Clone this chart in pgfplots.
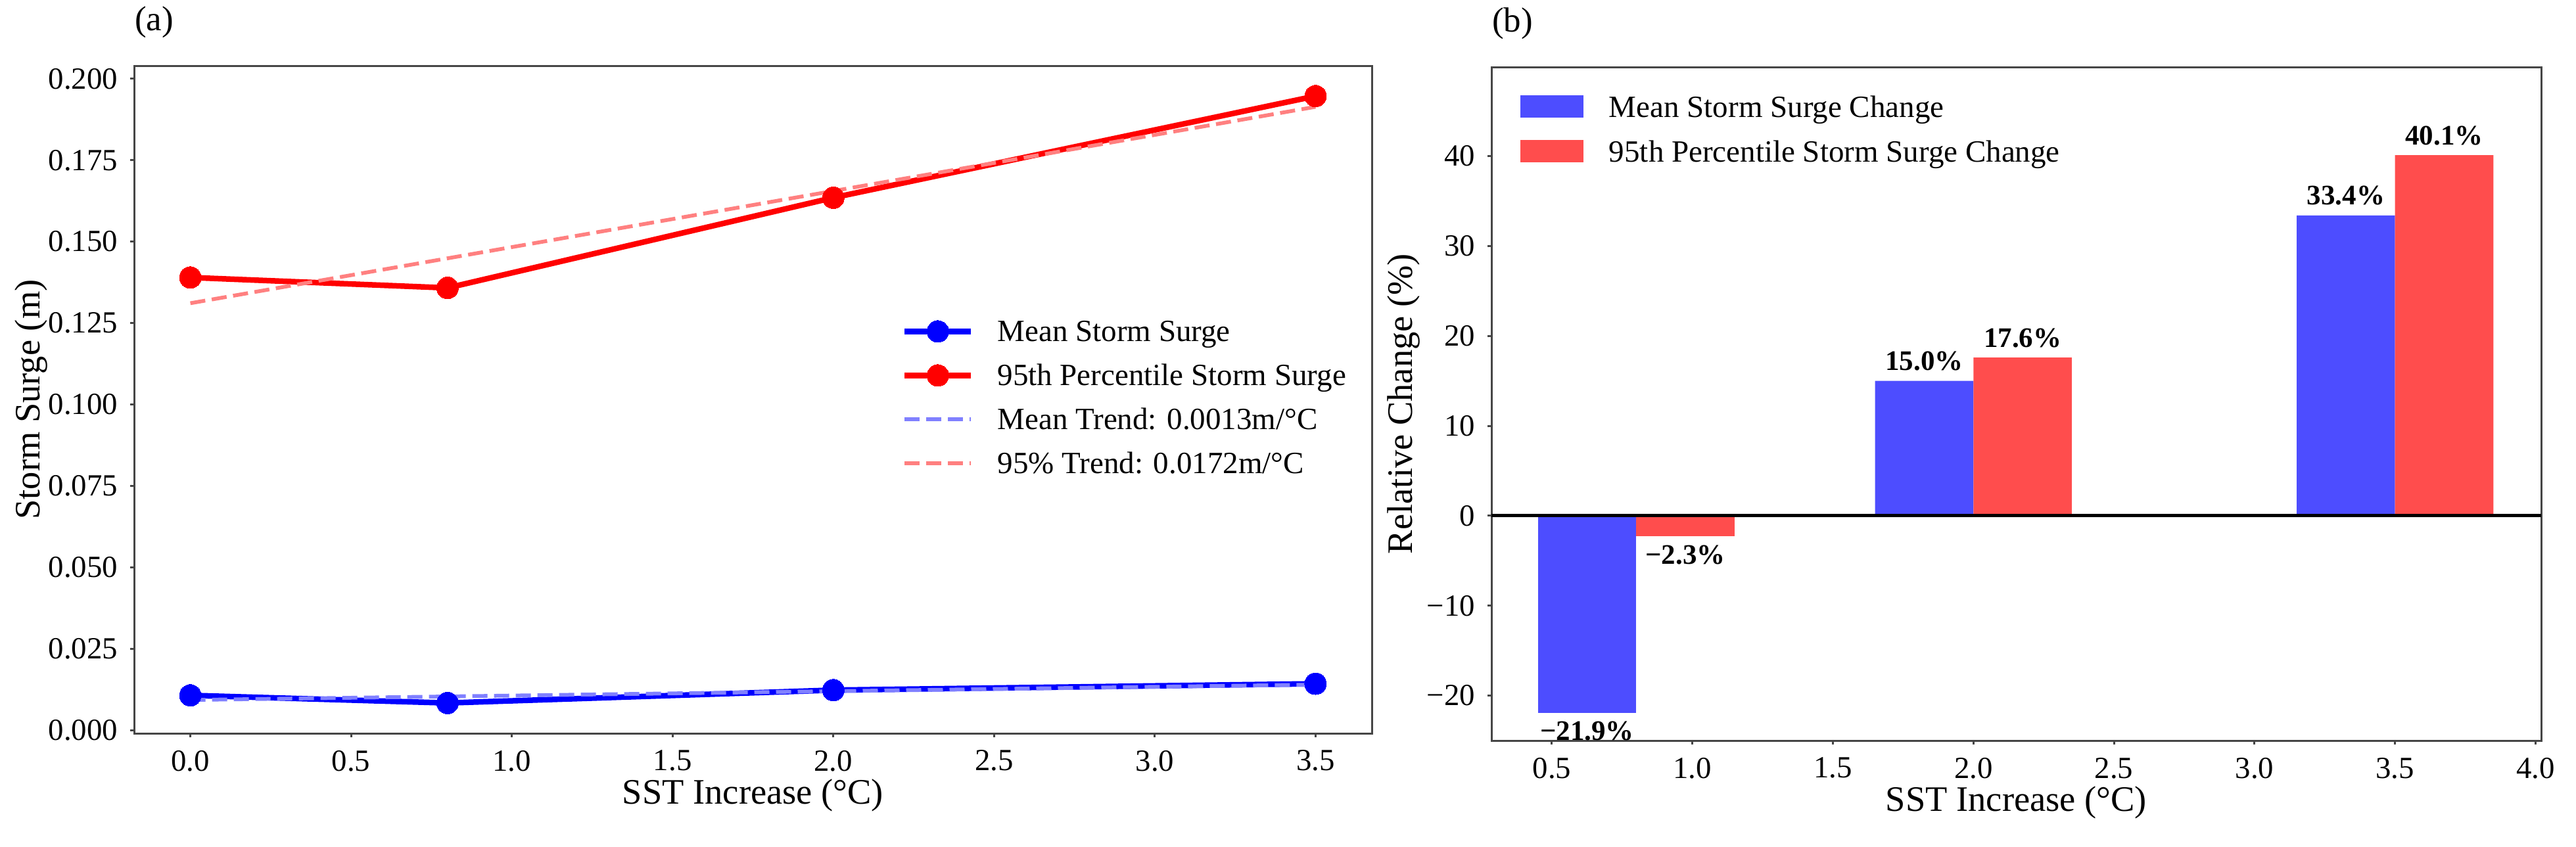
\documentclass[border=0pt]{standalone}
\usepackage{fontspec}
\setmainfont{Liberation Serif}
\usepackage{pgfplots}
\pgfplotsset{compat=1.18}
\definecolor{tblue}{RGB}{128,128,255}
\definecolor{tred}{RGB}{255,128,128}
\definecolor{bblue}{RGB}{77,77,255}
\definecolor{bred}{RGB}{255,77,77}
\definecolor{spine}{RGB}{70,70,70}
\newcommand{\tickfont}{\fontsize{9.36pt}{11pt}\selectfont}
\newcommand{\labfont}{\fontsize{10.9pt}{13pt}\selectfont}
\newcommand{\titfont}{\fontsize{10.6pt}{13pt}\selectfont}
\newcommand{\legfont}{\fontsize{9.4pt}{11pt}\selectfont}
\newcommand{\barfont}{\fontsize{8.6pt}{10pt}\selectfont\bfseries}
\pgfplotsset{
  common/.style={
    scale only axis, anchor=south west,
    axis line style={spine, line width=0.6pt},
    every tick/.style={spine, line width=0.6pt},
    tick align=outside, major tick length=1.2pt, tick pos=left,
    ticklabel style={font=\tickfont},
    xticklabel style={inner sep=0pt, anchor=north, yshift=-3.8pt},
    yticklabel style={inner sep=0pt, anchor=east, xshift=-3.6pt},
    xlabel style={at={(axis description cs:0.5,0)}, anchor=base, yshift=-21.4pt, inner sep=0pt, font=\labfont},
    ylabel style={anchor=north, inner sep=0pt, font=\labfont},
    title style={at={(axis description cs:0,1)}, anchor=base west, yshift=4.7pt, inner sep=0pt, font=\titfont},
    legend cell align=left,
  }
}
\begin{document}
\begin{tikzpicture}
\path[use as bounding box] (0,0) rectangle (783.8pt,257.6pt);
\begin{axis}[common,
  at={(40.8pt,34.4pt)}, width=376.6pt, height=203.2pt,
  xmin=-0.175, xmax=3.675, ymin=-0.00096, ymax=0.20402,
  xtick={0,0.5,1,1.5,2,2.5,3,3.5},
  xticklabels={0.0,0.5,1.0,1.5,2.0,2.5,3.0,3.5},
  ytick={0,0.025,0.05,0.075,0.1,0.125,0.15,0.175,0.2},
  yticklabels={0.000,0.025,0.050,0.075,0.100,0.125,0.150,0.175,0.200},
  xlabel={SST Increase (°C)},
  ylabel={Storm Surge (m)},
  ylabel style={at={(axis description cs:-0.0967,0.5)}},
  title={(a)},
  legend style={at={(0.6198,0.6193)}, anchor=north west, draw=none, fill=none,
    inner sep=0pt, font=\legfont, row sep=6.8pt, column sep=7.2pt,
    nodes={inner sep=0pt, text height=6.3pt, text depth=0.3pt}},
  legend image code/.code={\draw[mark repeat=2,mark phase=2,#1] plot coordinates {(0pt,0pt)(10.1pt,0pt)(20.2pt,0pt)};},
]
\addplot[blue, line width=1.7pt, mark=*, mark size=3.3pt, mark options={solid, fill=blue, draw=blue, line width=0pt}]
  coordinates {(0,0.0107) (0.8,0.00836) (2.0,0.01231) (3.5,0.01427)};
\addlegendentry{Mean Storm Surge}
\addplot[red, line width=1.7pt, mark=*, mark size=3.3pt, mark options={solid, fill=red, draw=red, line width=0pt}]
  coordinates {(0,0.1390) (0.8,0.1358) (2.0,0.1635) (3.5,0.1947)};
\addlegendentry{95th Percentile Storm Surge}
\addplot[tblue, line width=1.15pt, dash pattern=on 4.6pt off 2pt]
  coordinates {(0,0.00929) (3.5,0.01399)};
\addlegendentry{Mean Trend: 0.0013m/°C}
\addplot[tred, line width=1.15pt, dash pattern=on 4.6pt off 2pt]
  coordinates {(0,0.1311) (3.5,0.1914)};
\addlegendentry{95\% Trend: 0.0172m/°C}
\end{axis}

\begin{axis}[common,
  at={(453.8pt,32.2pt)}, width=319.4pt, height=205pt,
  xmin=0.285, xmax=4.02, ymin=-25.0, ymax=49.9,
  clip=false,
  xtick={0.5,1,1.5,2,2.5,3,3.5,4},
  xticklabels={0.5,1.0,1.5,2.0,2.5,3.0,3.5,4.0},
  ytick={-20,-10,0,10,20,30,40},
  yticklabels={−20,−10,0,10,20,30,40},
  xlabel={SST Increase (°C)},
  ylabel={Relative Change (\%)},
  ylabel style={at={(axis description cs:-0.0996,0.5)}},
  title={(b)},
  legend style={at={(0.0269,0.9590)}, anchor=north west, draw=none, fill=none,
    inner sep=0pt, font=\legfont, row sep=6.8pt, column sep=7.8pt,
    nodes={inner sep=0pt, text height=6.6pt, text depth=0pt}},
]
\addplot[ybar, bar width=0.35, bar shift=0pt, fill=bblue, draw=none,
  legend image code/.code={\fill[bblue] (0pt,-3.4pt) rectangle (19.2pt,3.4pt);},
  point meta=explicit symbolic, nodes near coords,
  every node near coord/.append style={anchor=base, yshift=3.2pt, inner sep=0pt, font=\barfont, text=black}]
  coordinates {(1.825,15.0) [15.0\%] (3.325,33.4) [33.4\%]};
\addlegendentry{Mean Storm Surge Change}
\addplot[ybar, bar width=0.35, bar shift=0pt, fill=bred, draw=none,
  legend image code/.code={\fill[bred] (0pt,-3.4pt) rectangle (19.2pt,3.4pt);},
  point meta=explicit symbolic, nodes near coords,
  every node near coord/.append style={anchor=base, yshift=3.2pt, inner sep=0pt, font=\barfont, text=black}]
  coordinates {(2.175,17.6) [17.6\%] (3.675,40.1) [40.1\%]};
\addlegendentry{95th Percentile Storm Surge Change}
\addplot[ybar, bar width=0.35, bar shift=0pt, fill=bblue, draw=none, forget plot,
  point meta=explicit symbolic, nodes near coords,
  every node near coord/.append style={anchor=north, yshift=-2.5pt, inner sep=0pt, font=\barfont, text=black}]
  coordinates {(0.625,-21.9) [−21.9\%]};
\addplot[ybar, bar width=0.35, bar shift=0pt, fill=bred, draw=none, forget plot,
  point meta=explicit symbolic, nodes near coords,
  every node near coord/.append style={anchor=north, yshift=-2.5pt, inner sep=0pt, font=\barfont, text=black}]
  coordinates {(0.975,-2.3) [−2.3\%]};
\addplot[black, line width=1pt, forget plot] coordinates {(0.285,0) (4.02,0)};
\end{axis}
\end{tikzpicture}
\end{document}
